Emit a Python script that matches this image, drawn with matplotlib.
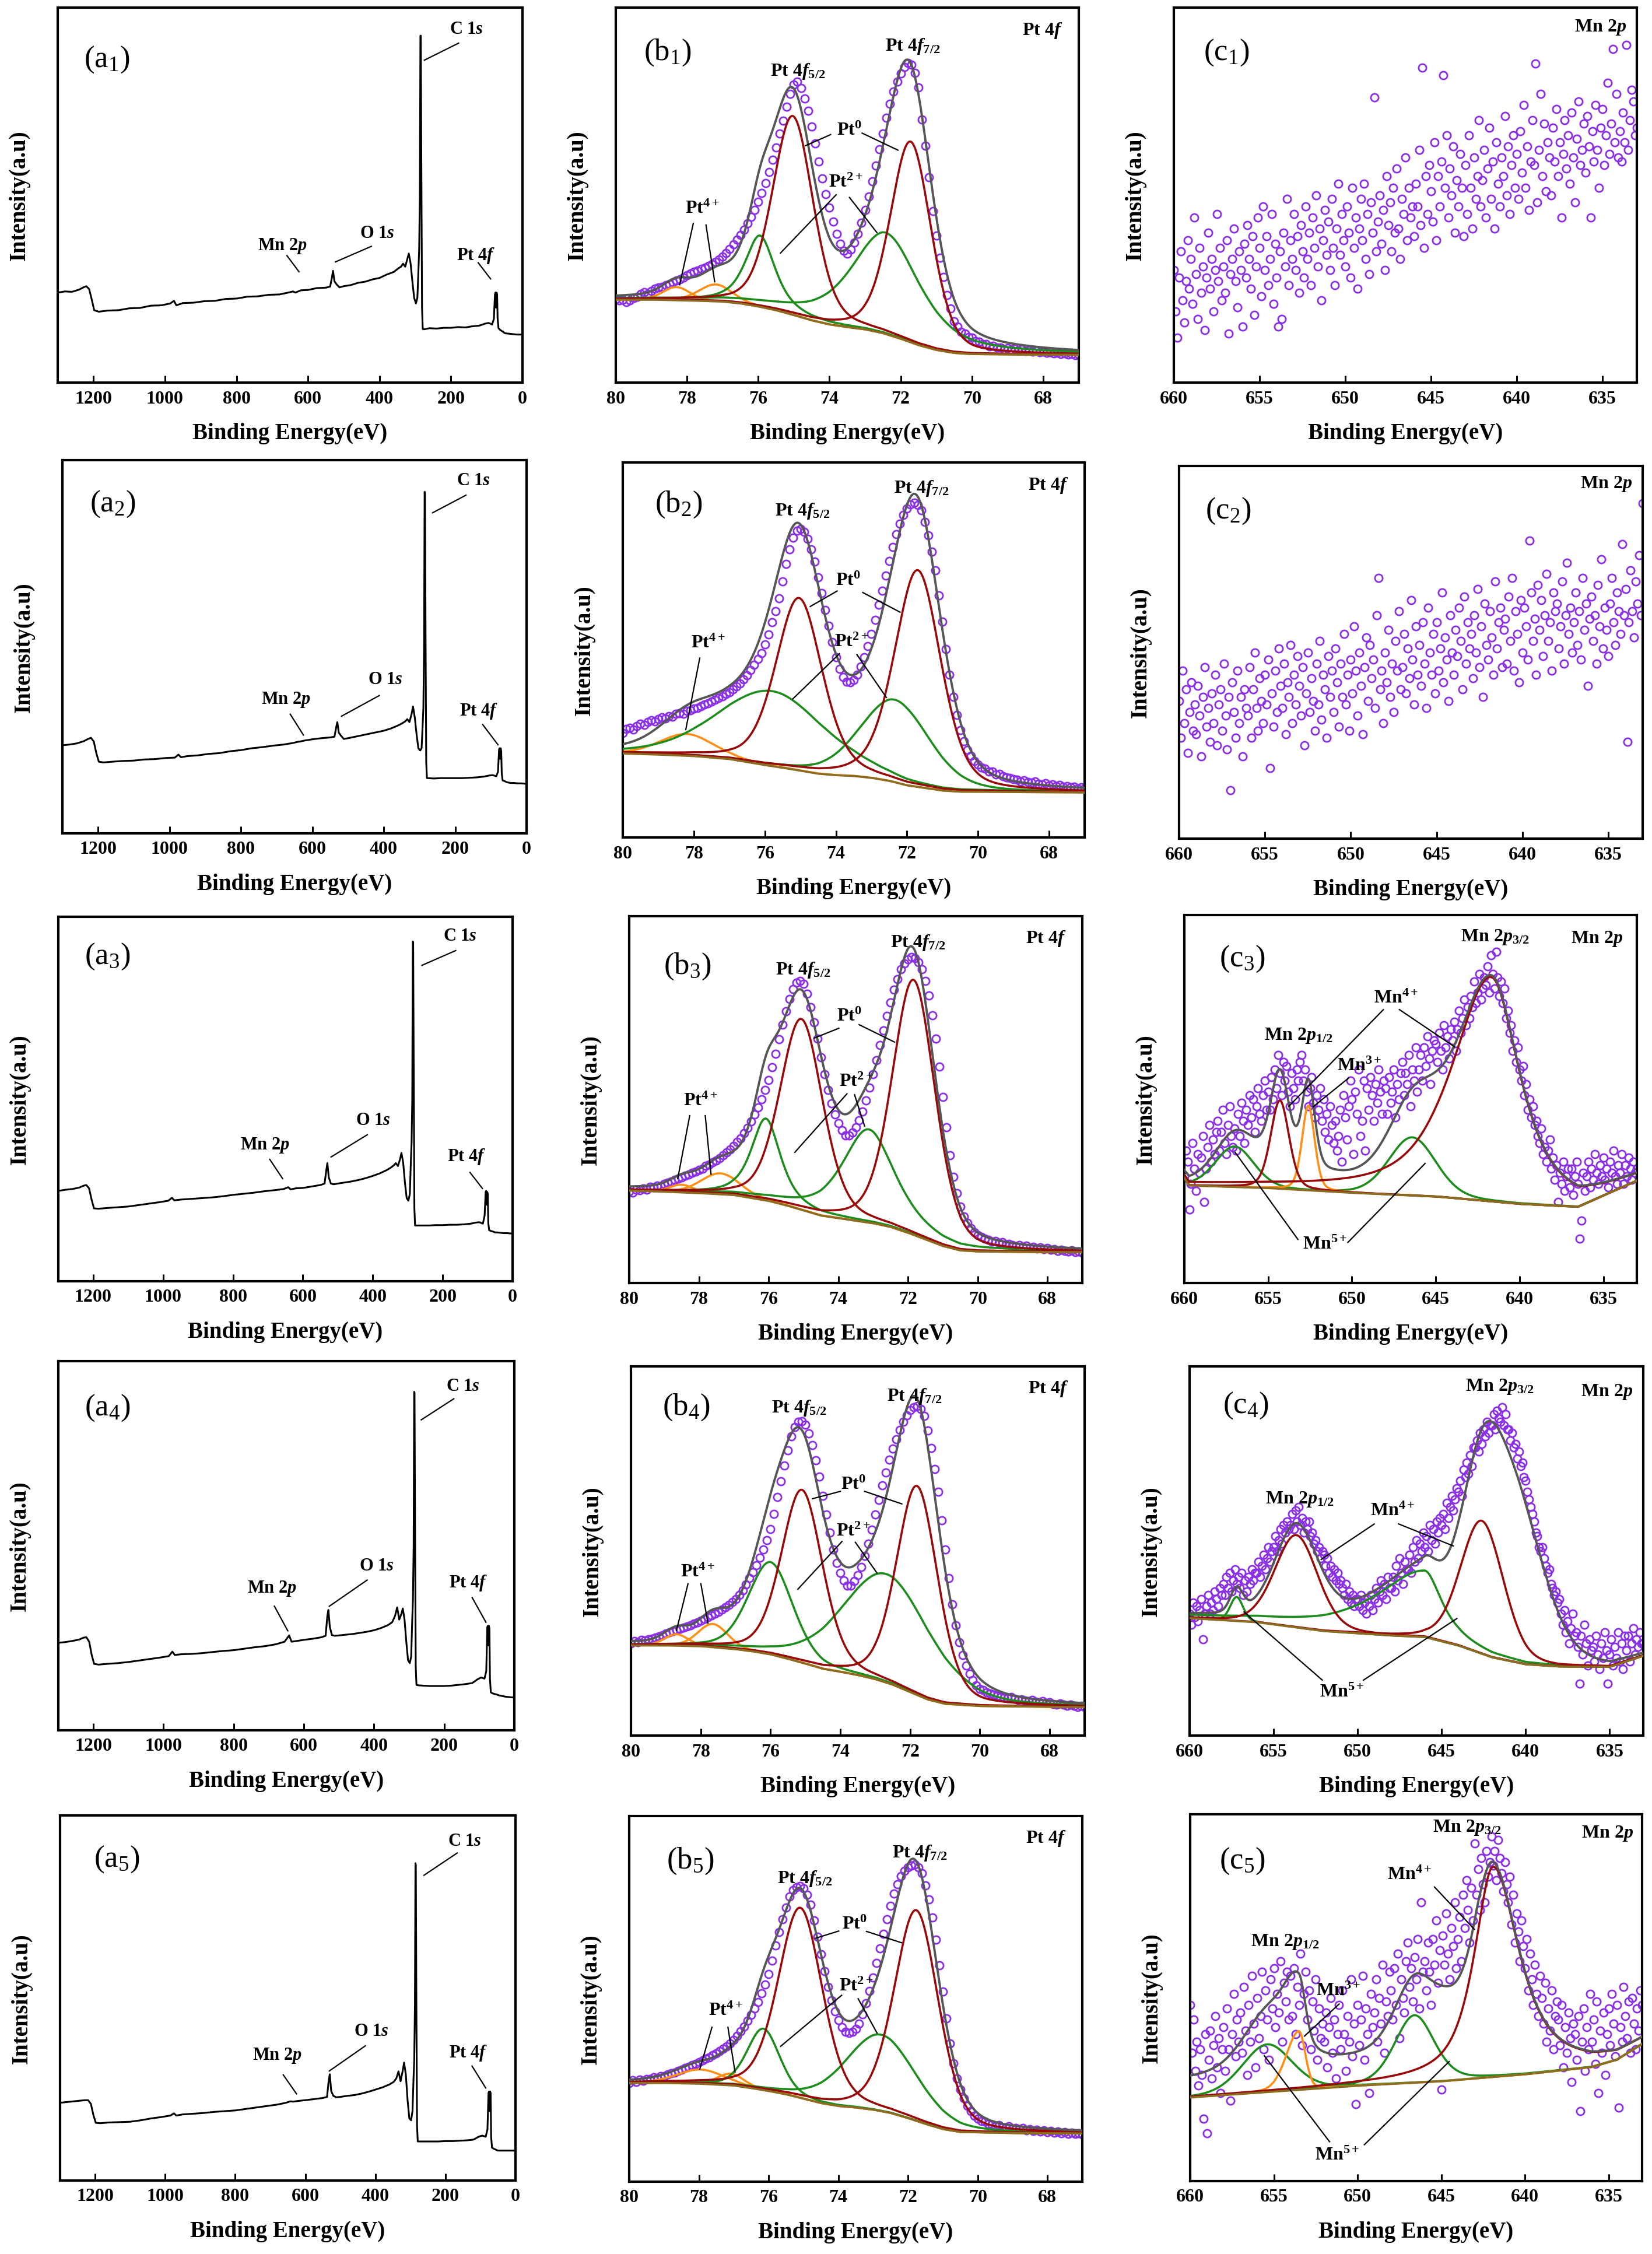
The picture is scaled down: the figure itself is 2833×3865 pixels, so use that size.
import numpy as np
import matplotlib
matplotlib.use("Agg")
import matplotlib.pyplot as plt

plt.rcParams['font.family'] = ['Liberation Serif', 'DejaVu Serif']
plt.rcParams['font.weight'] = 'bold'
plt.rcParams['mathtext.fontset'] = 'custom'
plt.rcParams['mathtext.rm'] = 'Liberation Serif:bold'
plt.rcParams['mathtext.it'] = 'Liberation Serif:italic:bold'
plt.rcParams['mathtext.bf'] = 'Liberation Serif:bold'

# ------------------------------------------------------------------ survey data
SURV_BE = [1300, 1280, 1260, 1240, 1228, 1220, 1212, 1205, 1198, 1185,
           1160, 1130, 1100, 1070, 1040, 1010, 985, 975, 968, 950,
           920, 890, 860, 830, 800, 770, 740, 710, 680, 655,
           642, 635, 620, 600, 575, 550, 538, 533, 530, 526,
           520, 512, 500, 480, 460, 440, 420, 400, 380, 360,
           348, 340, 334, 328, 322, 318, 313, 308, 303, 298,
           294, 291, 289, 287, 285.5, 284.5, 283, 281, 279, 275,
           260, 240, 220, 200, 180, 160, 140, 120, 105, 95,
           85, 80, 77, 75.5, 74, 72.5, 71, 69.5, 67, 62,
           55, 50, 45, 35, 25, 15, 5, 0]
SURV_A1 = [.240, .243, .242, .248, .254, .257, .249, .222, .193, .189,
           .192, .193, .198, .199, .205, .206, .211, .218, .206, .212,
           .213, .217, .218, .223, .224, .229, .230, .234, .235, .240,
           .243, .240, .246, .247, .252, .253, .256, .280, .298, .270,
           .262, .254, .257, .260, .266, .269, .275, .279, .288, .295,
           .304, .309, .317, .309, .330, .344, .318, .270, .226, .211,
           .226, .300, .356, .500, .925, .925, .600, .200, .143, .142,
           .145, .144, .146, .146, .148, .147, .150, .152, .157, .159,
           .155, .170, .235, .240, .200, .240, .235, .170, .145, .140,
           .136, .132, .131, .130, .129, .128, .128, .128]
SURV_A2 = [.236, .238, .241, .247, .253, .256, .246, .215, .192, .190,
           .192, .194, .195, .198, .199, .202, .203, .211, .204, .207,
           .209, .213, .215, .220, .223, .228, .231, .235, .238, .242,
           .245, .246, .249, .252, .255, .257, .259, .285, .298, .270,
           .262, .253, .255, .259, .263, .267, .271, .275, .281, .289,
           .295, .300, .306, .298, .320, .340, .310, .265, .228, .222,
           .228, .290, .336, .500, .915, .910, .550, .190, .148, .148,
           .147, .148, .148, .148, .148, .149, .150, .152, .155, .156,
           .153, .165, .225, .228, .200, .228, .220, .160, .142, .140,
           .137, .136, .135, .135, .134, .134, .133, .133]
SURV_A3 = [.248, .251, .253, .257, .262, .264, .255, .225, .200, .199,
           .201, .203, .205, .209, .213, .217, .221, .229, .222, .224,
           .226, .228, .230, .233, .237, .240, .243, .247, .250, .253,
           .258, .252, .255, .256, .260, .264, .268, .305, .324, .285,
           .268, .266, .268, .271, .274, .278, .283, .289, .296, .305,
           .312, .318, .324, .316, .335, .352, .325, .270, .228, .221,
           .240, .330, .380, .500, .932, .930, .600, .200, .153, .153,
           .153, .153, .154, .154, .155, .155, .156, .158, .161, .162,
           .158, .180, .245, .248, .210, .245, .240, .160, .140, .138,
           .136, .134, .134, .133, .132, .132, .131, .131]
SURV_A4 = [.237, .239, .242, .246, .251, .252, .240, .205, .180, .178,
           .180, .182, .185, .189, .193, .197, .201, .213, .204, .206,
           .207, .209, .212, .215, .217, .221, .225, .228, .233, .240,
           .257, .240, .242, .245, .248, .252, .256, .310, .326, .280,
           .258, .256, .257, .259, .261, .264, .267, .271, .277, .285,
           .293, .310, .333, .300, .315, .330, .300, .240, .190, .182,
           .200, .300, .354, .500, .917, .915, .550, .170, .123, .122,
           .121, .120, .120, .120, .121, .123, .125, .128, .138, .143,
           .140, .160, .280, .283, .230, .283, .275, .140, .103, .100,
           .098, .097, .095, .093, .091, .090, .089, .089]
SURV_A5 = [.213, .215, .217, .219, .220, .220, .210, .180, .158, .157,
           .159, .160, .161, .165, .170, .174, .178, .184, .178, .181,
           .183, .185, .188, .190, .192, .196, .200, .204, .208, .213,
           .217, .216, .218, .220, .223, .226, .229, .275, .291, .245,
           .232, .228, .229, .232, .234, .238, .243, .249, .255, .263,
           .270, .280, .299, .272, .300, .323, .290, .220, .170, .165,
           .190, .280, .330, .480, .869, .865, .500, .150, .107, .107,
           .107, .107, .107, .108, .108, .109, .110, .112, .120, .123,
           .120, .140, .240, .244, .190, .244, .240, .120, .090, .087,
           .084, .082, .082, .082, .082, .082, .082, .082]
SURVEYS = [SURV_A1, SURV_A2, SURV_A3, SURV_A4, SURV_A5]

# ------------------------------------------------------------------ Pt 4f data (x1000)
PT_BE = np.round(np.linspace(80.0, 67.0, 131), 2)
PT_B1 = [222, 219, 221, 215, 220, 225, 229, 236, 241, 236,
         244, 250, 253, 255, 259, 263, 268, 272, 275, 280,
         286, 291, 295, 299, 303, 306, 311, 316, 322, 328,
         336, 345, 356, 368, 381, 394, 407, 424, 441, 460,
         482, 506, 532, 562, 594, 627, 664, 699, 735, 770,
         795, 803, 786, 758, 724, 683, 638, 590, 545, 503,
         466, 430, 396, 370, 352, 344, 355, 373, 397, 426,
         460, 496, 536, 579, 622, 664, 706, 743, 776, 803,
         824, 842, 852, 848, 826, 787, 702, 632, 547, 458,
         392, 333, 282, 233, 197, 163, 150, 136, 131, 122,
         120, 111, 109, 102, 103, 96, 98, 93, 94, 89,
         92, 87, 90, 86, 88, 84, 86, 83, 85, 81,
         83, 80, 81, 78, 80, 76, 78, 75, 76, 73,
         74]
PT_B2 = [278, 290, 292, 288, 297, 303, 300, 308, 312, 309,
         315, 321, 318, 324, 322, 329, 331, 330, 337, 339,
         343, 346, 350, 354, 358, 362, 367, 372, 377, 382,
         388, 395, 403, 411, 421, 433, 446, 460, 476, 492,
         514, 541, 574, 603, 638, 683, 729, 768, 799, 818,
         823, 815, 797, 769, 736, 694, 651, 607, 565, 521,
         481, 450, 428, 416, 413, 420, 434, 455, 481, 510,
         543, 580, 620, 658, 698, 737, 775, 808, 837, 860,
         877, 888, 892, 886, 872, 842, 806, 762, 712, 645,
         575, 502, 434, 375, 326, 286, 256, 233, 218, 203,
         194, 186, 183, 176, 175, 168, 169, 163, 160, 158,
         156, 154, 150, 153, 148, 146, 149, 143, 142, 145,
         139, 141, 137, 140, 135, 137, 133, 136, 131, 134,
         130]
PT_B3 = [250, 247, 255, 252, 258, 255, 262, 260, 266, 264,
         271, 274, 277, 281, 285, 287, 293, 295, 301, 303,
         309, 312, 319, 322, 329, 334, 341, 348, 356, 364,
         374, 384, 395, 408, 423, 440, 459, 479, 501, 526,
         554, 588, 625, 664, 704, 741, 775, 801, 819, 824,
         815, 788, 752, 710, 666, 616, 569, 526, 490, 459,
         435, 416, 403, 402, 410, 424, 443, 468, 498, 532,
         569, 608, 649, 688, 728, 765, 799, 828, 855, 872,
         882, 889, 886, 874, 855, 823, 783, 730, 666, 590,
         507, 424, 348, 290, 245, 209, 182, 163, 150, 139,
         130, 126, 121, 118, 113, 115, 109, 111, 105, 107,
         103, 100, 104, 99, 101, 96, 98, 94, 97, 92,
         95, 90, 93, 88, 91, 87, 86, 89, 84, 86,
         83]
PT_B4 = [249, 256, 253, 259, 257, 261, 263, 266, 269, 272,
         276, 279, 282, 286, 289, 292, 296, 299, 304, 307,
         312, 316, 321, 325, 330, 335, 341, 347, 354, 361,
         370, 381, 394, 409, 426, 443, 462, 482, 504, 529,
         559, 600, 646, 689, 732, 773, 811, 836, 850, 852,
         842, 818, 787, 746, 701, 650, 598, 549, 504, 468,
         441, 420, 406, 406, 418, 434, 457, 486, 520, 558,
         598, 638, 677, 713, 748, 777, 803, 828, 850, 867,
         881, 890, 893, 884, 866, 827, 779, 722, 661, 583,
         504, 427, 355, 298, 253, 218, 190, 167, 150, 136,
         127, 124, 117, 114, 110, 108, 105, 102, 101, 104,
         99, 96, 98, 95, 93, 96, 92, 90, 93, 88,
         90, 86, 84, 87, 83, 81, 84, 80, 78, 81,
         77]
PT_B5 = [270, 277, 273, 279, 276, 281, 280, 285, 284, 289,
         288, 293, 296, 299, 303, 307, 311, 314, 319, 322,
         327, 331, 336, 340, 346, 351, 357, 363, 370, 378,
         388, 399, 412, 425, 440, 456, 473, 492, 515, 539,
         567, 605, 646, 682, 717, 750, 780, 797, 805, 808,
         802, 784, 757, 715, 670, 622, 575, 533, 496, 466,
         441, 423, 410, 406, 410, 418, 433, 457, 488, 522,
         559, 598, 638, 678, 717, 754, 788, 814, 836, 850,
         859, 865, 867, 860, 843, 811, 772, 722, 662, 592,
         520, 446, 378, 324, 283, 252, 228, 208, 193, 181,
         173, 166, 164, 158, 157, 152, 154, 149, 148, 151,
         145, 147, 143, 146, 141, 144, 139, 142, 137, 140,
         135, 138, 134, 137, 132, 136, 131, 134, 130, 133,
         129]
PT_DATA = [PT_B1, PT_B2, PT_B3, PT_B4, PT_B5]

# Shirley-type backgrounds (keypoints)
PT_BG_E = [80, 79, 78, 77, 76.5, 76, 75.5, 75, 74.5, 74, 73.5, 73, 72.5, 72, 71.5, 71, 70.5, 70, 69, 67]
PT_BG_B1 = [.221, .221, .219, .216, .211, .203, .193, .180, .166, .155, .148, .142, .132, .117, .100, .087, .079, .076, .075, .074]
PT_BG_B2 = [.224, .221, .217, .209, .201, .193, .186, .178, .170, .166, .164, .159, .151, .139, .132, .125, .122, .122, .121, .120]
PT_BG_B3 = [.252, .249, .245, .240, .232, .224, .212, .198, .184, .177, .170, .163, .153, .137, .119, .101, .089, .086, .085, .084]
PT_BG_B4 = [.244, .244, .242, .234, .228, .220, .208, .195, .181, .173, .164, .153, .138, .118, .098, .086, .083, .080, .079, .077]
PT_BG_B5 = [.270, .270, .268, .263, .256, .248, .239, .227, .215, .207, .203, .197, .188, .174, .158, .144, .136, .135, .133, .132]
PT_BGS = [PT_BG_B1, PT_BG_B2, PT_BG_B3, PT_BG_B4, PT_BG_B5]

# fitted components: (centre eV, height, width high-BE side, width low-BE side, Lorentz fraction)
# widths / Lorentz fraction of Pt0 and Pt2+ are refined against the data below
PT0_B = [[(71.72, .535, 1.2, 1.2, .3), (75.03, .53, 1.2, 1.2, .3)],
         [(71.70, .578, 1.45, 1.45, .35), (75.04, .46, 1.45, 1.45, .35)],
         [(71.84, .695, 1.35, 1.35, .3), (75.06, .52, 1.35, 1.35, .3)],
         [(71.80, .566, 1.30, 1.30, .3), (75.10, .468, 1.25, 1.25, .3)],
         [(71.76, .576, 1.35, 1.35, .3), (75.09, .52, 1.35, 1.35, .3)]]
PT2_B = [[(72.42, .27, 2.4, 2.4, .5), (75.95, .19, 1.6, 1.6, .3)],
         [(72.34, .22, 2.0, 2.0, .4), (75.80, .20, 2.1, 2.1, .4)],
         [(73.13, .254, 1.7, 1.7, .3), (76.08, .223, 1.8, 1.8, .3)],
         [(72.68, .294, 2.0, 2.0, .3), (76.00, .25, 1.9, 1.9, .3)],
         [(72.78, .209, 2.2, 2.2, .3), (76.15, .168, 1.4, 1.4, .3)]]
PT4_B = [[(78.30, .035, .9, .9, .2), (77.20, .045, 1.1, 1.1, .2)],
         [(78.20, .058, 1.8, 1.8, .2)],
         [(77.39, .057, 1.3, 1.3, .2), (78.50, .021, .8, .8, .2)],
         [(78.70, .031, .8, .8, .2), (77.65, .063, 1.0, 1.0, .2)],
         [(77.95, .039, 1.6, 1.6, .2), (77.09, .032, .9, .9, .2)]]

# ------------------------------------------------------------------ Mn 2p data (x100)
MN_BE = np.round(np.linspace(660.0, 633.0, 271), 2)
MN_C1 = [30, 19, 12, 28, 35, 22, 16, 27, 38, 25,
         33, 21, 44, 29, 17, 36, 24, 31, 14, 28,
         40, 25, 33, 19, 30, 45, 27, 36, 22, 31,
         24, 38, 13, 29, 33, 41, 27, 20, 35, 30,
         15, 37, 28, 42, 33, 25, 39, 18, 31, 44,
         36, 23, 47, 30, 39, 26, 33, 45, 21, 37,
         28, 15, 35, 17, 40, 31, 49, 26, 38, 33,
         45, 30, 39, 24, 42, 35, 28, 47, 33, 40,
         26, 44, 36, 50, 31, 41, 22, 38, 46, 34,
         43, 30, 49, 36, 26, 41, 53, 34, 45, 38,
         31, 47, 40, 28, 52, 36, 44, 25, 41, 49,
         38, 53, 33, 45, 29, 48, 40, 76, 35, 43,
         50, 37, 46, 30, 55, 42, 48, 35, 52, 40,
         57, 41, 33, 49, 45, 60, 38, 52, 44, 47,
         39, 53, 47, 62, 42, 84, 36, 55, 45, 58,
         51, 43, 64, 38, 55, 47, 59, 82, 52, 66,
         44, 57, 50, 63, 40, 54, 47, 61, 52, 39,
         58, 45, 66, 52, 41, 60, 49, 55, 70, 47,
         54, 62, 44, 57, 68, 49, 59, 41, 64, 53,
         47, 60, 55, 71, 50, 63, 45, 58, 66, 52,
         61, 49, 67, 56, 74, 52, 63, 46, 59, 70,
         58, 85, 48, 62, 77, 55, 69, 51, 64, 60,
         50, 68, 59, 73, 55, 64, 44, 61, 70, 57,
         66, 53, 72, 60, 48, 65, 75, 58, 62, 69,
         56, 71, 63, 44, 67, 59, 74, 62, 52, 68,
         73, 58, 66, 80, 61, 69, 89, 64, 77, 60,
         67, 59, 72, 64, 90, 62, 70, 78, 75, 66,
         68]
MN_C2 = [37, 27, 45, 31, 40, 23, 34, 42, 29, 36,
         28, 41, 33, 22, 38, 46, 30, 35, 26, 39,
         31, 44, 25, 36, 40, 29, 47, 33, 24, 38,
         13, 42, 34, 27, 45, 31, 38, 22, 40, 35,
         33, 46, 27, 40, 50, 35, 29, 43, 37, 31,
         44, 36, 48, 19, 39, 30, 45, 34, 51, 41,
         35, 47, 28, 42, 38, 52, 31, 44, 36, 49,
         41, 33, 46, 25, 39, 50, 34, 43, 37, 29,
         47, 36, 53, 32, 44, 40, 27, 49, 38, 45,
         34, 51, 42, 30, 47, 38, 55, 36, 44, 29,
         48, 39, 57, 45, 33, 50, 41, 28, 46, 54,
         37, 52, 43, 48, 35, 60, 70, 40, 45, 31,
         50, 42, 56, 38, 47, 34, 53, 45, 61, 40,
         46, 55, 39, 51, 43, 64, 48, 36, 57, 44,
         52, 41, 58, 47, 35, 62, 50, 44, 55, 39,
         58, 45, 51, 66, 42, 54, 48, 37, 60, 50,
         44, 56, 49, 62, 53, 40, 65, 47, 58, 51,
         55, 43, 60, 50, 67, 46, 57, 38, 63, 52,
         48, 61, 54, 44, 69, 51, 58, 62, 46, 56,
         59, 47, 65, 53, 70, 45, 61, 55, 42, 64,
         50, 62, 57, 48, 80, 66, 53, 59, 44, 68,
         56, 64, 49, 60, 71, 53, 58, 45, 66, 61,
         63, 51, 57, 69, 47, 60, 74, 55, 62, 50,
         58, 66, 52, 61, 48, 70, 56, 63, 41, 59,
         65, 53, 60, 47, 68, 57, 75, 51, 62, 56,
         49, 63, 70, 58, 52, 66, 61, 55, 79, 60,
         67, 26, 58, 72, 61, 54, 69, 63, 76, 60,
         90]
MN_C3 = [29, 36, 33, 20, 27, 38, 31, 25, 35, 30,
         34, 40, 22, 31, 37, 43, 33, 39, 35, 41,
         44, 36, 41, 47, 38, 35, 43, 48, 40, 37,
         42, 36, 46, 40, 49, 44, 38, 47, 43, 51,
         45, 50, 41, 48, 53, 46, 44, 51, 55, 47,
         52, 47, 56, 50, 58, 53, 62, 57, 51, 60,
         55, 59, 52, 48, 57, 53, 50, 58, 55, 60,
         62, 55, 58, 52, 48, 53, 56, 49, 45, 51,
         47, 53, 44, 50, 41, 46, 39, 48, 43, 38,
         44, 36, 40, 47, 33, 51, 45, 39, 48, 55,
         50, 35, 52, 46, 58, 40, 44, 55, 36, 53,
         47, 56, 51, 44, 54, 49, 58, 52, 46, 55,
         53, 46, 56, 49, 52, 58, 45, 54, 50, 57,
         60, 51, 57, 54, 62, 48, 58, 55, 64, 52,
         58, 62, 55, 64, 59, 67, 61, 54, 63, 66,
         65, 60, 68, 63, 58, 70, 64, 67, 61, 69,
         66, 71, 63, 69, 74, 68, 72, 77, 70, 75,
         72, 78, 75, 82, 76, 79, 84, 77, 80, 83,
         81, 86, 79, 89, 84, 80, 90, 83, 78, 82,
         76, 80, 72, 74, 68, 70, 63, 66, 60, 64,
         58, 55, 59, 51, 54, 47, 50, 45, 48, 43,
         44, 40, 38, 42, 35, 37, 33, 36, 39, 31,
         34, 28, 32, 22, 30, 27, 33, 25, 29, 31,
         26, 31, 24, 29, 33, 27, 12, 17, 30, 25,
         29, 33, 26, 31, 28, 35, 30, 27, 32, 29,
         34, 28, 31, 26, 33, 30, 36, 29, 27, 32,
         30, 35, 27, 32, 29, 34, 31, 28, 33, 30,
         31]
MN_C4 = [33, 30, 36, 32, 35, 31, 34, 37, 26, 33,
         35, 38, 33, 36, 34, 39, 37, 35, 40, 38,
         41, 38, 43, 40, 44, 39, 42, 45, 41, 43,
         40, 44, 38, 42, 39, 43, 41, 45, 42, 44,
         44, 47, 43, 46, 49, 45, 48, 51, 47, 50,
         51, 54, 50, 53, 56, 52, 57, 55, 58, 56,
         57, 60, 56, 61, 58, 62, 57, 59, 55, 58,
         56, 58, 54, 55, 52, 53, 50, 51, 48, 50,
         49, 46, 48, 44, 46, 43, 45, 42, 44, 41,
         42, 40, 38, 41, 37, 39, 36, 38, 35, 37,
         37, 35, 38, 34, 36, 33, 37, 35, 38, 34,
         37, 40, 36, 39, 42, 38, 41, 37, 43, 40,
         40, 43, 39, 46, 42, 48, 44, 41, 47, 45,
         45, 49, 44, 51, 47, 53, 48, 52, 50, 55,
         51, 54, 50, 57, 53, 56, 52, 58, 55, 59,
         57, 60, 56, 63, 59, 62, 65, 61, 64, 67,
         66, 69, 65, 72, 70, 74, 71, 76, 73, 78,
         78, 80, 77, 82, 79, 83, 81, 85, 82, 84,
         84, 87, 83, 88, 86, 85, 89, 84, 87, 83,
         83, 80, 82, 78, 79, 75, 77, 73, 74, 70,
         69, 66, 64, 62, 60, 58, 55, 54, 51, 50,
         51, 48, 46, 44, 45, 41, 40, 38, 39, 36,
         37, 33, 30, 34, 28, 31, 25, 29, 33, 27,
         28, 24, 14, 27, 22, 30, 25, 19, 26, 23,
         24, 20, 27, 22, 18, 25, 21, 28, 23, 14,
         22, 26, 19, 24, 21, 28, 20, 25, 18, 27,
         23, 27, 20, 25, 29, 22, 26, 24, 28, 25,
         25]
MN_C5 = [48, 35, 44, 30, 38, 26, 36, 29, 17, 40,
         13, 33, 41, 28, 37, 45, 31, 39, 24, 36,
         42, 30, 47, 36, 22, 40, 51, 34, 44, 38,
         46, 35, 53, 41, 29, 48, 38, 56, 43, 31,
         50, 39, 45, 57, 36, 52, 44, 33, 55, 47,
         58, 42, 51, 46, 60, 38, 54, 49, 57, 44,
         56, 45, 58, 40, 53, 48, 62, 37, 51, 57,
         44, 52, 36, 49, 41, 55, 33, 47, 39, 43,
         38, 46, 31, 42, 50, 35, 44, 28, 40, 48,
         36, 52, 40, 30, 45, 38, 55, 34, 43, 21,
         48, 37, 44, 56, 33, 47, 40, 24, 51, 42,
         46, 55, 38, 50, 43, 59, 35, 49, 45, 57,
         52, 44, 58, 48, 62, 39, 55, 50, 46, 60,
         65, 53, 58, 49, 61, 55, 66, 47, 76, 57,
         60, 52, 65, 57, 48, 66, 59, 71, 54, 63,
         25, 67, 59, 73, 62, 55, 69, 64, 76, 58,
         66, 72, 60, 78, 69, 82, 74, 65, 80, 71,
         92, 78, 85, 74, 88, 81, 76, 90, 83, 87,
         94, 86, 90, 82, 93, 88, 84, 79, 87, 81,
         76, 83, 70, 78, 65, 73, 68, 60, 71, 64,
         58, 66, 52, 62, 55, 48, 59, 51, 45, 56,
         50, 43, 54, 38, 47, 41, 52, 36, 45, 49,
         44, 37, 48, 31, 42, 35, 46, 39, 27, 43,
         40, 33, 45, 19, 38, 47, 30, 42, 36, 51,
         38, 44, 32, 49, 24, 41, 35, 46, 29, 40,
         47, 37, 51, 43, 34, 48, 20, 42, 38, 53,
         45, 39, 49, 35, 50, 43, 36, 47, 41, 52,
         48]
MN_DATA = [MN_C1, MN_C2, MN_C3, MN_C4, MN_C5]

MN_BG_E3 = [660, 659.7, 655, 650, 645, 640, 636.5, 633]
MN_BG_C3 = [.285, .265, .258, .245, .235, .215, .207, .278]
MN_BG_E4 = [660, 656, 652, 648, 646, 644, 642, 640, 638, 635, 633]
MN_BG_C4 = [.318, .307, .283, .271, .267, .244, .212, .193, .187, .186, .216]
MN_BG_E5 = [660, 650, 645, 640, 636, 634.5, 633]
MN_BG_C5 = [.228, .260, .272, .291, .311, .331, .374]

MN4_C = {3: [(641.7, .61, 5.5, 4.0, .7), (654.3, .24, 1.3, 1.3, .3)],
         4: [(653.65, .25, 3.0, 3.0, .2), (642.6, .36, 3.0, 3.0, .2)],
         5: [(641.9, .573, 2.7, 3.7, .8)]}
MN3_C = {3: [(652.6, .23, .9, .9, .3)], 4: [], 5: [(653.5, .16, 1.8, .9, .2)]}
MN5_C = {3: [(657.0, .11, 2.7, 2.7, .2), (646.4, .158, 3.3, 3.3, .2)],
         4: [(657.2, .065, .9, .9, .2), (646.0, .18, 7.0, 2.5, .9)],
         5: [(655.4, .13, 3.5, 3.5, .2), (646.6, .184, 2.8, 2.8, .3)]}
MN_EXTRA = {3: [(654.5, .05, 5.0, 5.0, .3)],
            4: [(640.6, .40, 4.5, 4.0, .2)],
            5: [(643.0, .07, 50.0, 1.2, 0.0), (654.5, .04, 3.0, 3.0, .3), (644.8, .04, 2.0, 2.0, .3)]}

# ------------------------------------------------------------------ layout (pixel boxes x0,x1,y0,y1)
W, H = 2833, 3866
BOX_A = [(99, 896, 14, 657), (107, 903, 790, 1430), (100, 879, 1573, 2198), (100, 882, 2335, 2968), (103, 884, 3114, 3740)]
BOX_B = [(1056, 1850, 14, 657), (1068, 1860, 794, 1437), (1079, 1856, 1572, 2201), (1082, 1860, 2344, 2977), (1079, 1856, 3115, 3742)]
BOX_C = [(2013, 2807, 14, 657), (2022, 2817, 800, 1439), (2031, 2807, 1570, 2201), (2040, 2818, 2344, 2977), (2041, 2816, 3112, 3741)]

PURPLE = '#8b2fe6'
GRAY = '#565656'
RED = '#980a0a'
GREEN = '#1c8c1c'
ORANGE = '#ff8f14'
BROWN = '#8c6c22'

fig = plt.figure(figsize=(W / 100, H / 100), dpi=100)


def pv(E, c, h, wl, wr, m):
    w = np.where(E >= c, wl, wr)
    d = (E - c) / w
    return h * ((1 - m) * np.exp(-4 * np.log(2) * d * d) + m / (1 + 4 * d * d))


def refine_widths(i):
    """Grid-search the Pt0 / Pt2+ widths (and Pt2+ Lorentz share) so the envelope follows the data."""
    E = PT_BE
    y = np.array(PT_DATA[i]) / 1000.0
    bg = np.interp(E, PT_BG_E[::-1], PT_BGS[i][::-1])
    base = bg + sum(pv(E, *p) for p in PT4_B[i])
    g0, g1 = PT2_B[i]
    wg = np.arange(1.0, 3.65, 0.1)
    best = (np.inf, None)
    for mg in (0.3, 0.5, 0.7):
        G0 = np.array([pv(E, g0[0], g0[1], w, w, mg) for w in wg])
        G1 = np.array([pv(E, g1[0], g1[1], w, w, mg) for w in wg])
        for wr in np.arange(1.0, 1.86, 0.05):
            R = sum(pv(E, p[0], p[1], wr, wr, p[4]) for p in PT0_B[i])
            tot = base[None, None, :] + R[None, None, :] + G0[:, None, :] + G1[None, :, :]
            res = ((tot - y[None, None, :]) ** 2).sum(axis=2)
            j, k = np.unravel_index(np.argmin(res), res.shape)
            if res[j, k] < best[0]:
                best = (res[j, k], (wr, wg[j], wg[k], mg))
    wr, w0, w1, mg = best[1]
    reds = [(p[0], p[1], wr, wr, p[4]) for p in PT0_B[i]]
    greens = [(g0[0], g0[1], w0, w0, mg), (g1[0], g1[1], w1, w1, mg)]
    return reds, greens


def make_ax(box, xlim, ticks):
    x0, x1, y0, y1 = box
    w, h = x1 - x0, y1 - y0
    ax = fig.add_axes([x0 / W, 1 - y1 / H, w / W, h / H])
    ax.set_xlim(*xlim)
    ax.set_ylim(0, 1)
    ax.set_xticks(ticks)
    for s in ax.spines.values():
        s.set_linewidth(3.0)
    ax.tick_params(axis='x', direction='in', length=9, width=2.2, labelsize=23, pad=9, top=False)
    ax.tick_params(axis='y', left=False, labelleft=False)
    ax.set_xlabel('Binding Energy(eV)', fontsize=28, fontweight='bold')
    ax.xaxis.set_label_coords(0.5, -68 / h)
    ax.set_ylabel('Intensity(a.u)', fontsize=28, fontweight='bold')
    ax.yaxis.set_label_coords(-47 / w, 0.5)
    return ax


def label(ax, pos, letter, idx):
    ax.text(pos[0], pos[1], '(' + letter + r'$_{\mathregular{' + str(idx) + '}}$)',
            transform=ax.transAxes, fontsize=38, fontweight='normal', ha='left', va='center')


def note(ax, txt, xy, lines=(), size=23):
    ax.text(xy[0], xy[1], txt, fontsize=size, ha='center', va='center', zorder=6)
    for (p, q) in lines:
        ax.plot([p[0], q[0]], [p[1], q[1]], color='k', lw=1.6, zorder=5, solid_capstyle='butt')


# ------------------------------------------------------------------ survey panels
A_ANN = [
    dict(lab=(.056, .863), c=((156, .944), (177, .906), (276, .859)), o=((406, .399), (421, .364), (525, .321)),
         mn=((671, .365), (660, .340), (624, .294)), pt=((130, .340), (125, .321), (88, .275))),
    dict(lab=(.059, .884), c=((149, .946), (168, .907), (265, .858)), o=((396, .414), (411, .370), (520, .313)),
         mn=((673, .360), (663, .321), (624, .262)), pt=((134, .329), (124, .293), (79, .236))),
    dict(lab=(.058, .893), c=((151, .948), (161, .908), (261, .866)), o=((399, .442), (414, .403), (521, .340)),
         mn=((708, .374), (696, .336), (657, .280)), pt=((131, .343), (123, .300), (85, .253))),
    dict(lab=(.058, .875), c=((146, .933), (171, .899), (267, .840)), o=((393, .447), (418, .408), (529, .335)),
         mn=((690, .385), (685, .338), (645, .268)), pt=((131, .400), (121, .361), (80, .291))),
    dict(lab=(.074, .882), c=((145, .930), (165, .898), (263, .835)), o=((412, .409), (427, .370), (533, .299)),
         mn=((680, .343), (664, .291), (624, .236)), pt=((135, .350), (125, .315), (84, .252))),
]

for i in range(5):
    ax = make_ax(BOX_A[i], (1300, 0), [1200, 1000, 800, 600, 400, 200, 0])
    ax.plot(SURV_BE, SURVEYS[i], color='k', lw=2.2)
    a = A_ANN[i]
    label(ax, a['lab'], 'a', i + 1)
    note(ax, r'C 1$s$', a['c'][0], [(a['c'][1], a['c'][2])], size=22)
    note(ax, r'O 1$s$', a['o'][0], [(a['o'][1], a['o'][2])], size=22)
    note(ax, r'Mn 2$p$', a['mn'][0], [(a['mn'][1], a['mn'][2])], size=22)
    note(ax, r'Pt 4$f$', a['pt'][0], [(a['pt'][1], a['pt'][2])], size=22)

# ------------------------------------------------------------------ Pt 4f panels
B_ANN = [
    dict(lab=(.061, .882), f7=(71.67, .898), f5=(74.89, .832),
         p0=((73.45, .673), [((73.95, .662), (74.69, .631)), ((73.10, .666), (72.06, .619))]),
         p2=((73.55, .534), [((73.80, .502), (75.39, .344)), ((73.45, .495), (72.66, .399))]),
         p4=((77.57, .464), [((77.82, .426), (78.21, .259)), ((77.47, .422), (77.22, .267))])),
    dict(lab=(.070, .890), f7=(71.59, .933), f5=(74.94, .871),
         p0=((73.66, .685), [((73.95, .658), (74.74, .615)), ((73.26, .654), (72.18, .600))]),
         p2=((73.56, .522), [((73.89, .491), (75.23, .368)), ((73.42, .489), (72.57, .372))]),
         p4=((77.60, .519), [((77.83, .480), (78.23, .286))])),
    dict(lab=(.076, .865), f7=(71.71, .929), f5=(75.01, .854),
         p0=((73.69, .727), [((73.97, .695), (74.71, .667)), ((73.42, .705), (72.37, .656))]),
         p2=((73.49, .549), [((73.74, .517), (75.26, .355)), ((73.54, .515), (73.24, .426))]),
         p4=((77.95, .497), [((78.26, .458), (78.61, .283)), ((77.82, .458), (77.65, .295))])),
    dict(lab=(.070, .890), f7=(71.88, .920), f5=(75.19, .888),
         p0=((73.62, .680), [((73.98, .662), (74.82, .641)), ((73.32, .662), (72.22, .627))]),
         p2=((73.62, .554), [((73.94, .527), (75.23, .395)), ((73.58, .525), (72.94, .439))]),
         p4=((78.09, .444), [((78.36, .413), (78.70, .283)), ((78.00, .413), (77.79, .303))])),
    dict(lab=(.083, .878), f7=(71.66, .901), f5=(74.96, .830),
         p0=((73.54, .704), [((73.97, .686), (74.68, .665)), ((73.21, .685), (72.17, .653))]),
         p2=((73.49, .535), [((73.89, .511), (75.67, .369)), ((73.44, .502), (72.88, .405))]),
         p4=((77.24, .468), [((77.62, .424), (77.98, .306)), ((77.17, .424), (76.96, .298))])),
]

E_pt = np.linspace(80, 67, 900)
for i in range(5):
    ax = make_ax(BOX_B[i], (80, 67), [80, 78, 76, 74, 72, 70, 68])
    bg = np.interp(E_pt, PT_BG_E[::-1], PT_BGS[i][::-1])
    ax.plot(PT_BE, np.array(PT_DATA[i]) / 1000.0, 'o', ms=9.5, mfc='none', mec=PURPLE, mew=2.0, zorder=2)
    reds, greens = refine_widths(i)
    total = np.zeros_like(E_pt)
    for comps, col in ((PT4_B[i], ORANGE), (greens, GREEN), (reds, RED)):
        for p in comps:
            y = pv(E_pt, *p)
            total += y
            ax.plot(E_pt, bg + y, color=col, lw=2.6, zorder=3)
    ax.plot(E_pt, bg, color=BROWN, lw=2.6, zorder=3.5)
    ax.plot(E_pt, bg + total, color=GRAY, lw=2.8, zorder=4)
    a = B_ANN[i]
    label(ax, a['lab'], 'b', i + 1)
    ax.text(.965, .94, r'Pt 4$f$', transform=ax.transAxes, fontsize=23, ha='right', va='center')
    note(ax, r'Pt 4$f_{7/2}$', a['f7'])
    note(ax, r'Pt 4$f_{5/2}$', a['f5'])
    note(ax, r'Pt$^{\mathregular{0}}$', a['p0'][0], a['p0'][1])
    note(ax, r'Pt$^{\mathregular{2+}}$', a['p2'][0], a['p2'][1])
    note(ax, r'Pt$^{\mathregular{4+}}$', a['p4'][0], a['p4'][1])

# ------------------------------------------------------------------ Mn 2p panels
C_ANN = [
    dict(corner=(.977, .948), lab=(.064, .882)),
    dict(corner=(.977, .953), lab=(.056, .880)),
    dict(corner=(.969, .937), lab=(.077, .882), p32=(641.47, .941), p12=(653.17, .673),
         m4=((647.37, .775), [((648.10, .744), (653.79, .479)), ((647.20, .744), (643.85, .641))]),
         m3=((649.54, .590), [((650.17, .558), (652.34, .478))]),
         m5=((651.61, .105), [((653.20, .117), (657.00, .357)), ((650.27, .109), (645.61, .326))])),
    dict(corner=(.977, .932), lab=(.073, .896), p32=(641.55, .947), p12=(653.45, .641),
         m4=((647.90, .609), [((648.98, .574), (652.20, .476)), ((647.60, .574), (644.27, .513))]),
         m3=None,
         m5=((650.94, .118), [((652.07, .149), (656.79, .336)), ((649.69, .149), (644.06, .318))])),
    dict(corner=(.981, .949), lab=(.064, .874), p32=(643.46, .965), p12=(654.34, .654),
         m4=((646.88, .835), [((645.43, .803), (642.99, .685))]),
         m3=((651.13, .520), [((651.07, .484), (653.20, .394))]),
         m5=((651.23, .071), [((651.65, .106), (655.59, .343)), ((649.62, .098), (644.50, .327))])),
]
MN_BG = {3: (MN_BG_E3, MN_BG_C3), 4: (MN_BG_E4, MN_BG_C4), 5: (MN_BG_E5, MN_BG_C5)}

E_mn = np.linspace(660, 633, 1200)
for i in range(5):
    ax = make_ax(BOX_C[i], (660, 633), [660, 655, 650, 645, 640, 635])
    ax.plot(MN_BE, np.array(MN_DATA[i]) / 100.0, 'o', ms=9.5, mfc='none', mec=PURPLE, mew=2.0, zorder=2)
    k = i + 1
    if k in MN_BG:
        be, bv = MN_BG[k]
        bg = np.interp(E_mn, be[::-1], bv[::-1])
        total = np.zeros_like(E_mn)
        for comps, col in ((MN5_C[k], GREEN), (MN3_C[k], ORANGE), (MN4_C[k], RED)):
            for p in comps:
                y = pv(E_mn, *p)
                total += y
                ax.plot(E_mn, bg + y, color=col, lw=2.6, zorder=3)
        for p in MN_EXTRA[k]:
            total += pv(E_mn, *p)
        ax.plot(E_mn, bg, color=BROWN, lw=2.6, zorder=3.5)
        ax.plot(E_mn, bg + total, color=GRAY, lw=2.8, zorder=4)
    a = C_ANN[i]
    label(ax, a['lab'], 'c', k)
    ax.text(a['corner'][0], a['corner'][1], r'Mn 2$p$', transform=ax.transAxes, fontsize=23, ha='right', va='center')
    if 'p32' in a:
        note(ax, r'Mn 2$p_{3/2}$', a['p32'])
        note(ax, r'Mn 2$p_{1/2}$', a['p12'])
        note(ax, r'Mn$^{\mathregular{4+}}$', a['m4'][0], a['m4'][1])
        if a['m3'] is not None:
            note(ax, r'Mn$^{\mathregular{3+}}$', a['m3'][0], a['m3'][1])
        note(ax, r'Mn$^{\mathregular{5+}}$', a['m5'][0], a['m5'][1])

fig.savefig('out.png', dpi=100)
